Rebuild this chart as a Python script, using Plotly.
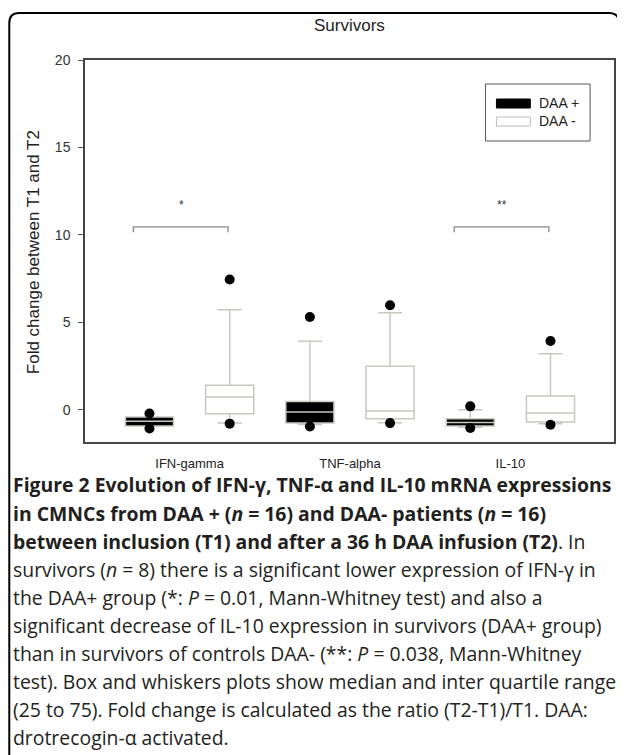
import plotly.graph_objects as go

# ---------------- data ----------------
categories = ["IFN-gamma", "TNF-alpha", "IL-10"]
groups = ["DAA +", "DAA -"]

daa_pos_q1 = [-0.94, -0.77, -0.94]
daa_pos_median = [-0.67, -0.14, -0.73]
daa_pos_q3 = [-0.42, 0.47, -0.52]
daa_pos_low = [-0.94, -0.85, -1.00]
daa_pos_high = [-0.42, 3.91, 0.00]
daa_pos_outliers = [[-0.22, -1.08], [5.30, -0.96], [0.19, -1.05]]

daa_neg_q1 = [-0.23, -0.52, -0.71]
daa_neg_median = [0.72, -0.08, -0.19]
daa_neg_q3 = [1.39, 2.48, 0.78]
daa_neg_low = [-0.77, -0.75, -0.80]
daa_neg_high = [5.72, 5.55, 3.20]
daa_neg_outliers = [[7.44, -0.80], [5.97, -0.77], [3.93, -0.86]]

sig_categories = [0, 2]
sig_labels = ["*", "**"]
sig_level = 10.45

y_ticks = [0, 5, 10, 15, 20]

caption_lines = [
    "<b>Figure 2 Evolution of IFN-γ, TNF-α and IL-10 mRNA expressions</b>",
    "<b>in CMNCs from DAA + (<i>n</i> = 16) and DAA- patients (<i>n</i> = 16)</b>",
    "<b>between inclusion (T1) and after a 36 h DAA infusion (T2)</b>. In",
    "survivors (<i>n</i> = 8) there is a significant lower expression of IFN-γ in",
    "the DAA+ group (*: <i>P</i> = 0.01, Mann-Whitney test) and also a",
    "significant decrease of IL-10 expression in survivors (DAA+ group)",
    "than in survivors of controls DAA- (**: <i>P</i> = 0.038, Mann-Whitney",
    "test). Box and whiskers plots show median and inter quartile range",
    "(25 to 75). Fold change is calculated as the ratio (T2-T1)/T1. DAA:",
    "drotrecogin-α activated.",
]

# ---------------- layout helpers ----------------
PAGE_OFF = 8                      # browser body margin
W, H = 625 - PAGE_OFF, 755 - PAGE_OFF
# plot area in page pixels: x 85..616, y 60..442
ML, MR = 85 - PAGE_OFF, W - (616 - PAGE_OFF)
MT, MB = 60 - PAGE_OFF, H - (442 - PAGE_OFF)
PW, PH = W - ML - MR, H - MT - MB


def pxx(x):
    return (x - PAGE_OFF - ML) / PW


def pxy(y):
    return (MT + PH - (y - PAGE_OFF)) / PH


idx = list(range(len(categories)))
OFF = 0.25
BOX_LINE = "#c8c8c0"
CHART_FONT = "Liberation Sans, Arial, sans-serif"
CAP_FONT = "Open Sans, sans-serif"

fig = go.Figure()

fig.add_trace(go.Box(
    name=groups[0], x=[i - OFF for i in idx],
    q1=daa_pos_q1, median=daa_pos_median, q3=daa_pos_q3,
    lowerfence=daa_pos_low, upperfence=daa_pos_high,
    width=0.3, whiskerwidth=0.5, boxpoints=False,
    fillcolor="black", line=dict(color=BOX_LINE, width=1.5),
    showlegend=False, hoverinfo="skip"))

fig.add_trace(go.Box(
    name=groups[1], x=[i + OFF for i in idx],
    q1=daa_neg_q1, median=daa_neg_median, q3=daa_neg_q3,
    lowerfence=daa_neg_low, upperfence=daa_neg_high,
    width=0.3, whiskerwidth=0.5, boxpoints=False,
    fillcolor="white", line=dict(color=BOX_LINE, width=1.5),
    showlegend=False, hoverinfo="skip"))

for outs, sign in [(daa_pos_outliers, -1), (daa_neg_outliers, 1)]:
    xs, ys = [], []
    for i, vals in zip(idx, outs):
        for v in vals:
            xs.append(i + sign * OFF)
            ys.append(v)
    fig.add_trace(go.Scatter(x=xs, y=ys, mode="markers",
                             marker=dict(color="black", size=10),
                             showlegend=False, hoverinfo="skip"))

shapes = []
annotations = []

# significance brackets
for ci, lab in zip(sig_categories, sig_labels):
    x0, x1 = ci - 0.35, ci + 0.24
    shapes.append(dict(type="path", xref="x", yref="y",
                       path=f"M {x0},{sig_level - 0.3} L {x0},{sig_level} L {x1},{sig_level} L {x1},{sig_level - 0.3}",
                       line=dict(color="#8a8a8a", width=1.3)))
    annotations.append(dict(x=ci - 0.05, y=sig_level + 1.25, xref="x", yref="y",
                            text=lab, showarrow=False,
                            font=dict(family=CHART_FONT, size=12, color="#333")))

# legend (drawn)
shapes.append(dict(type="rect", xref="paper", yref="paper",
                   x0=pxx(487), x1=pxx(592), y0=pxy(84), y1=pxy(141),
                   line=dict(color="#555", width=1), fillcolor="white"))
for k, (g, fc) in enumerate(zip(groups, ["black", "white"])):
    yc = 103.5 + 18 * k
    shapes.append(dict(type="rect", xref="paper", yref="paper",
                       x0=pxx(498), x1=pxx(532), y0=pxy(yc - 4.5), y1=pxy(yc + 4.5),
                       line=dict(color="#bdbdb5" if fc == "white" else "black", width=1),
                       fillcolor=fc))
    annotations.append(dict(x=pxx(539), y=pxy(yc), xref="paper", yref="paper",
                            xanchor="left", yanchor="middle", text=g, showarrow=False,
                            font=dict(family=CHART_FONT, size=14, color="#222")))

# y axis title
annotations.append(dict(x=pxx(33), y=pxy(252), xref="paper", yref="paper",
                        text="Fold change between T1 and T2", textangle=-90,
                        showarrow=False, xanchor="center", yanchor="middle",
                        font=dict(family=CHART_FONT, size=17, color="#222")))

# chart title
annotations.append(dict(x=pxx(350), y=pxy(25), xref="paper", yref="paper",
                        text="Survivors", showarrow=False,
                        xanchor="center", yanchor="middle",
                        font=dict(family=CHART_FONT, size=17, color="#222")))

# caption
cap_top, cap_step = 485, 28.1
for k, line in enumerate(caption_lines):
    annotations.append(dict(x=pxx(11), y=pxy(cap_top + k * cap_step),
                            xref="paper", yref="paper", xanchor="left", yanchor="middle",
                            text=line, showarrow=False,
                            font=dict(family=CAP_FONT, size=19.4, color="#231f20")))

# outer rounded frame
fl, fr, ft, fb, rad = 9, 621, 13, 770, 10
frame_path = (f"M {pxx(fl)},{pxy(fb)} L {pxx(fl)},{pxy(ft + rad)} "
              f"Q {pxx(fl)},{pxy(ft)} {pxx(fl + rad)},{pxy(ft)} "
              f"L {pxx(fr - rad)},{pxy(ft)} Q {pxx(fr)},{pxy(ft)} {pxx(fr)},{pxy(ft + rad)} "
              f"L {pxx(fr)},{pxy(fb)}")
shapes.append(dict(type="path", xref="paper", yref="paper", path=frame_path,
                   line=dict(color="black", width=2)))

fig.update_layout(
    width=W, height=H,
    margin=dict(l=ML, r=MR, t=MT, b=MB),
    paper_bgcolor="white", plot_bgcolor="white",
    boxmode="overlay", showlegend=False,
    shapes=shapes, annotations=annotations,
    xaxis=dict(range=[-0.652, 2.646], tickvals=idx, ticktext=categories,
               showline=True, mirror=True, linecolor="#444", linewidth=1.5,
               ticks="", ticklabelstandoff=9, showgrid=False, zeroline=False,
               tickfont=dict(family=CHART_FONT, size=13, color="#222")),
    yaxis=dict(range=[-1.85, 20], tickvals=y_ticks,
               showline=True, mirror=True, linecolor="#444", linewidth=1.5,
               ticks="outside", ticklen=5, tickcolor="#555", tickwidth=1,
               ticklabelstandoff=5,
               showgrid=False, zeroline=False,
               tickfont=dict(family=CHART_FONT, size=14, color="#333")),
)

fig.write_html("out.html")
